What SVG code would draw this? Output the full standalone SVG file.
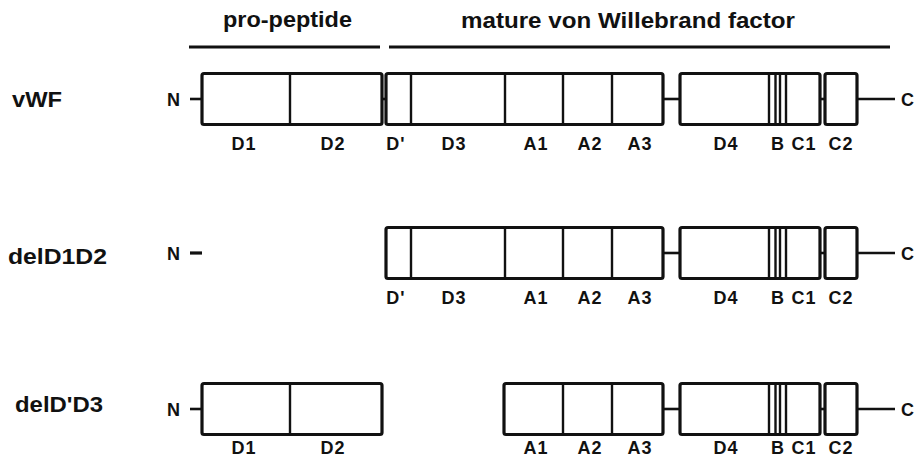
<svg xmlns="http://www.w3.org/2000/svg" width="915" height="458" viewBox="0 0 915 458">
<style>
text{font-family:"Liberation Sans",Arial,sans-serif;font-weight:bold;fill:#111}
.h{font-size:22px}
.r{font-size:22px}
.l{font-size:18px;text-anchor:middle;letter-spacing:1px}
.n{font-size:18px}
.box{fill:#fff;stroke:#111;stroke-width:3.2}
.div{stroke:#111;stroke-width:2.4}
.ln{stroke:#111;stroke-width:2.6;fill:none}
.bar{stroke:#111;stroke-width:3.2}
</style>
<rect width="915" height="458" fill="#fff"/>
<g id="header">
<text class="h" x="223" y="27" textLength="129" lengthAdjust="spacingAndGlyphs">pro-peptide</text>
<text class="h" x="461" y="28" textLength="334" lengthAdjust="spacingAndGlyphs">mature von Willebrand factor</text>
<line class="bar" x1="189" y1="47" x2="380" y2="47"/>
<line class="bar" x1="389" y1="47" x2="890" y2="47"/>
</g>
<g id="connectors">
<line class="ln" x1="190" y1="99" x2="202" y2="99"/>
<line class="ln" x1="382" y1="99" x2="386" y2="99"/>
<line class="ln" x1="663" y1="99" x2="680" y2="99"/>
<line class="ln" x1="820" y1="99" x2="825" y2="99"/>
<line class="ln" x1="857" y1="99" x2="895" y2="99"/>
<line class="bar" x1="190" y1="253" x2="202" y2="253"/>
<line class="ln" x1="663" y1="253" x2="680" y2="253"/>
<line class="ln" x1="820" y1="253" x2="825" y2="253"/>
<line class="ln" x1="857" y1="253" x2="895" y2="253"/>
<line class="ln" x1="190" y1="409" x2="202" y2="409"/>
<line class="ln" x1="663" y1="409" x2="680" y2="409"/>
<line class="ln" x1="820" y1="409" x2="825" y2="409"/>
<line class="ln" x1="857" y1="409" x2="895" y2="409"/>
</g>
<g id="row-vWF">
<text class="r" x="12" y="107" textLength="50" lengthAdjust="spacingAndGlyphs">vWF</text>
<text class="n" x="167" y="106">N</text>
<rect class="box" x="202" y="73.5" width="180" height="51" rx="2"/>
<line class="div" x1="290" y1="73.5" x2="290" y2="124.5"/>
<rect class="box" x="386" y="73.5" width="277" height="51" rx="2"/>
<line class="div" x1="411" y1="73.5" x2="411" y2="124.5"/>
<line class="div" x1="505" y1="73.5" x2="505" y2="124.5"/>
<line class="div" x1="563" y1="73.5" x2="563" y2="124.5"/>
<line class="div" x1="612" y1="73.5" x2="612" y2="124.5"/>
<rect class="box" x="680" y="73.5" width="140" height="51" rx="2"/>
<line class="div" x1="769" y1="73.5" x2="769" y2="124.5"/>
<line class="div" x1="775.5" y1="73.5" x2="775.5" y2="124.5"/>
<line class="div" x1="780" y1="73.5" x2="780" y2="124.5"/>
<line class="div" x1="786" y1="73.5" x2="786" y2="124.5"/>
<rect class="box" x="825" y="73.5" width="32" height="51" rx="2"/>
<text class="n" x="901" y="106">C</text>
<text class="l" x="244" y="150">D1</text>
<text class="l" x="333" y="150">D2</text>
<text class="l" x="396" y="150">D'</text>
<text class="l" x="454" y="150">D3</text>
<text class="l" x="536" y="150">A1</text>
<text class="l" x="590" y="150">A2</text>
<text class="l" x="640" y="150">A3</text>
<text class="l" x="726" y="150">D4</text>
<text class="l" x="778" y="150">B</text>
<text class="l" x="804" y="150">C1</text>
<text class="l" x="841" y="150">C2</text>
</g>
<g id="row-delD1D2">
<text class="r" x="8" y="264" textLength="99" lengthAdjust="spacingAndGlyphs">delD1D2</text>
<text class="n" x="167" y="260">N</text>
<rect class="box" x="386" y="227.5" width="277" height="51" rx="2"/>
<line class="div" x1="411" y1="227.5" x2="411" y2="278.5"/>
<line class="div" x1="505" y1="227.5" x2="505" y2="278.5"/>
<line class="div" x1="563" y1="227.5" x2="563" y2="278.5"/>
<line class="div" x1="612" y1="227.5" x2="612" y2="278.5"/>
<rect class="box" x="680" y="227.5" width="140" height="51" rx="2"/>
<line class="div" x1="769" y1="227.5" x2="769" y2="278.5"/>
<line class="div" x1="775.5" y1="227.5" x2="775.5" y2="278.5"/>
<line class="div" x1="780" y1="227.5" x2="780" y2="278.5"/>
<line class="div" x1="786" y1="227.5" x2="786" y2="278.5"/>
<rect class="box" x="825" y="227.5" width="32" height="51" rx="2"/>
<text class="n" x="901" y="260">C</text>
<text class="l" x="396" y="304">D'</text>
<text class="l" x="454" y="304">D3</text>
<text class="l" x="536" y="304">A1</text>
<text class="l" x="590" y="304">A2</text>
<text class="l" x="640" y="304">A3</text>
<text class="l" x="726" y="304">D4</text>
<text class="l" x="778" y="304">B</text>
<text class="l" x="804" y="304">C1</text>
<text class="l" x="841" y="304">C2</text>
</g>
<g id="row-delDpD3">
<text class="r" x="15" y="412" textLength="88" lengthAdjust="spacingAndGlyphs">delD'D3</text>
<text class="n" x="167" y="416">N</text>
<rect class="box" x="202" y="383.5" width="180" height="51" rx="2"/>
<line class="div" x1="290" y1="383.5" x2="290" y2="434.5"/>
<rect class="box" x="504" y="383.5" width="159" height="51" rx="2"/>
<line class="div" x1="563" y1="383.5" x2="563" y2="434.5"/>
<line class="div" x1="612" y1="383.5" x2="612" y2="434.5"/>
<rect class="box" x="680" y="383.5" width="140" height="51" rx="2"/>
<line class="div" x1="769" y1="383.5" x2="769" y2="434.5"/>
<line class="div" x1="775.5" y1="383.5" x2="775.5" y2="434.5"/>
<line class="div" x1="780" y1="383.5" x2="780" y2="434.5"/>
<line class="div" x1="786" y1="383.5" x2="786" y2="434.5"/>
<rect class="box" x="825" y="383.5" width="32" height="51" rx="2"/>
<text class="n" x="901" y="416">C</text>
<text class="l" x="244" y="454">D1</text>
<text class="l" x="333" y="454">D2</text>
<text class="l" x="536" y="454">A1</text>
<text class="l" x="590" y="454">A2</text>
<text class="l" x="640" y="454">A3</text>
<text class="l" x="726" y="454">D4</text>
<text class="l" x="778" y="454">B</text>
<text class="l" x="804" y="454">C1</text>
<text class="l" x="841" y="454">C2</text>
</g>
</svg>
